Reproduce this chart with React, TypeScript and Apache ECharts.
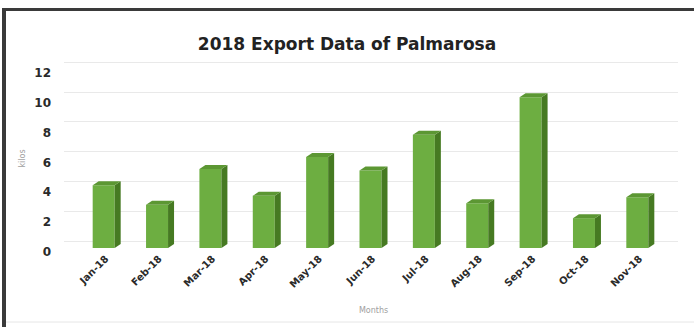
import React, { useEffect, useRef } from "react";
import * as echarts from "echarts";

const categories = ["Jan-18", "Feb-18", "Mar-18", "Apr-18", "May-18", "Jun-18", "Jul-18", "Aug-18", "Sep-18", "Oct-18", "Nov-18"];
const values = [4.2, 2.9, 5.3, 3.5, 6.1, 5.2, 7.6, 3.0, 10.1, 2.0, 3.4];
const yTicks = [0, 2, 4, 6, 8, 10, 12];

const TITLE = "2018 Export Data of Palmarosa";
const X_NAME = "Months";
const Y_NAME = "kilos";

export default function App() {
  const ref = useRef<HTMLDivElement>(null);
  useEffect(() => {
    if (!ref.current) return;
    const chart = echarts.init(ref.current, null, { renderer: "svg" });
    const yMax = yTicks[yTicks.length - 1];
    const yInt = yTicks[1] - yTicks[0];
    const frontW = 22;
    const depthX = 6;
    const depthY = 4;
    chart.setOption({
      animation: false,
      backgroundColor: "#ffffff",
      title: {
        text: TITLE,
        left: "center",
        top: 30,
        textStyle: { fontFamily: "DejaVu Sans", fontWeight: "bold", fontSize: 17, color: "#222222" },
      },
      graphic: [
        { type: "rect", shape: { x: 2, y: 8, width: 692, height: 3 }, style: { fill: "#3a3a3a" }, z: 100 },
        { type: "rect", shape: { x: 2, y: 8, width: 4, height: 319 }, style: { fill: "#3a3a3a" }, z: 100 },
        { type: "line", shape: { x1: 6, y1: 322, x2: 694, y2: 322 }, style: { stroke: "#e6e6e6", lineWidth: 1 }, z: 100 },
      ],
      grid: [
        { left: 80, right: 27, top: 69, bottom: 79 },
        { left: 64, right: 16, top: 62, bottom: 86 },
        { left: 80, right: 27, top: 73, bottom: 75 },
      ],
      xAxis: [
        {
          type: "category",
          gridIndex: 0,
          data: categories,
          axisLine: { show: false },
          axisTick: { show: false },
          axisLabel: {
            rotate: 45,
            margin: 9,
            interval: 0,
            fontFamily: "DejaVu Sans",
            fontWeight: "bold",
            fontSize: 10,
            color: "#2a2a2a",
          },
          name: X_NAME,
          nameLocation: "middle",
          nameGap: 58,
          nameTextStyle: { fontFamily: "DejaVu Sans", fontSize: 8, color: "#a0a0a0" },
        },
        { type: "category", gridIndex: 1, data: categories, show: false },
        { type: "category", gridIndex: 2, data: categories, show: false },
      ],
      yAxis: [
        {
          type: "value",
          gridIndex: 0,
          min: 0,
          max: yMax,
          interval: yInt,
          axisLabel: { show: false },
          axisLine: { show: false },
          axisTick: { show: false },
          splitLine: { show: false },
          name: Y_NAME,
          nameLocation: "middle",
          nameGap: 54,
          nameTextStyle: { fontFamily: "DejaVu Sans", fontSize: 8, color: "#a0a0a0" },
        },
        {
          type: "value",
          gridIndex: 1,
          min: 0,
          max: yMax,
          interval: yInt,
          axisLabel: { show: false },
          axisLine: { show: false },
          axisTick: { show: false },
          splitLine: { show: true, lineStyle: { color: "#e9e9e9", width: 1 } },
        },
        {
          type: "value",
          gridIndex: 2,
          min: 0,
          max: yMax,
          interval: yInt,
          axisLine: { show: false },
          axisTick: { show: false },
          splitLine: { show: false },
          axisLabel: {
            margin: 29,
            fontFamily: "DejaVu Sans",
            fontWeight: "bold",
            fontSize: 12,
            color: "#2a2a2a",
          },
        },
      ],
      series: [
        {
          type: "custom",
          xAxisIndex: 0,
          yAxisIndex: 0,
          data: values.map((v, i) => [i, v]),
          renderItem: (params: any, api: any) => {
            const idx = api.value(0);
            const val = api.value(1);
            const base = api.coord([idx, 0]);
            const top = api.coord([idx, val]);
            const x0 = base[0] - (frontW + depthX) / 2;
            const x1 = x0 + frontW;
            const yb = base[1];
            const yt = top[1];
            return {
              type: "group",
              children: [
                {
                  type: "rect",
                  shape: { x: x0, y: yt, width: frontW, height: yb - yt },
                  style: { fill: "#6dae41" },
                },
                {
                  type: "polygon",
                  shape: {
                    points: [
                      [x1, yt],
                      [x1 + depthX, yt - depthY],
                      [x1 + depthX, yb - depthY],
                      [x1, yb],
                    ],
                  },
                  style: { fill: "#467a22" },
                },
                {
                  type: "polygon",
                  shape: {
                    points: [
                      [x0, yt],
                      [x0 + depthX, yt - depthY],
                      [x1 + depthX, yt - depthY],
                      [x1, yt],
                    ],
                  },
                  style: { fill: "#5c9733" },
                },
              ],
            };
          },
        },
      ],
    });
    return () => chart.dispose();
  }, []);
  return <div ref={ref} style={{ position: "fixed", left: 0, top: 0, width: 694, height: 327 }} />;
}
